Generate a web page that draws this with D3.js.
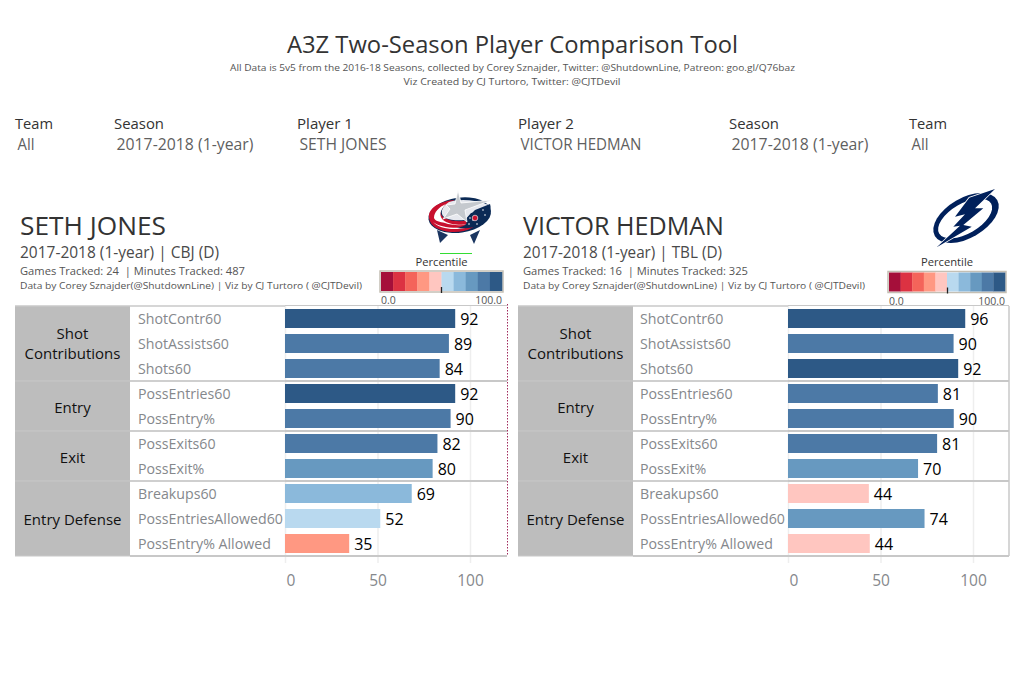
<!DOCTYPE html>
<html>
<head>
<meta charset="utf-8">
<script src="https://cdn.jsdelivr.net/npm/d3@7/dist/d3.min.js"></script>
<style>
html,body{margin:0;padding:0;background:#fff;overflow:hidden}
svg{display:block}
text{font-family:"Open Sans","Noto Sans",sans-serif}
</style>
</head>
<body>
<svg id="chart" width="1024" height="699"></svg>
<script>
const groups = ["Shot\nContributions", "Entry", "Exit", "Entry Defense"];
const groupSizes = [3, 2, 2, 3];
const metrics = ["ShotContr60","ShotAssists60","Shots60","PossEntries60","PossEntry%","PossExits60","PossExit%","Breakups60","PossEntriesAllowed60","PossEntry% Allowed"];
const player1Values = [92, 88.6, 83.6, 92, 89.5, 82.4, 79.8, 68.5, 51.5, 34.7];
const player2Values = [95.8, 89.5, 92, 81, 89.6, 80.6, 70.3, 43.7, 73.8, 44.2];
const palette = ["#A50F3A","#DC3242","#F4645A","#FF9882","#FFC6C0","#B9D9EF","#8BB9DB","#6799C0","#4C79A6","#2D5986"];
const axisTicks = [0, 50, 100];
const player1 = {name:"SETH JONES", sub:["2017-2018 (1-year) | CBJ (D)"], tracked:"Games Tracked: 24  | Minutes Tracked: 487"};
const player2 = {name:"VICTOR HEDMAN", sub:["2017-2018 (1-year) | TBL (D)"], tracked:"Games Tracked: 16  | Minutes Tracked: 325"};
const credit = "Data by Corey Sznajder(@ShutdownLine) | Viz by CJ Turtoro ( @CJTDevil)";
const filterLabels = ["Team","Season","Player 1","Player 2","Season","Team"];
const filterValues = ["All","2017-2018 (1-year)","SETH JONES","VICTOR HEDMAN","2017-2018 (1-year)","All"];
const filterX = [15,114,297,518,729,909];
const filterLabelW = [38,50,56,56,50,38];
const filterValueW = [17,137,87,121,137,17];

const svg = d3.select("#chart");
const ink = "#333333", mid = "#555555", grey = "#85888c", rule = "#c8c8c8";

function txt(parent,x,y,s,size,fill,anchor,len){
  const t = parent.append("text").attr("x",x).attr("y",y).attr("font-size",size).attr("fill",fill)
    .attr("text-anchor",anchor||"start").style("white-space","pre").text(s);
  if(len) t.attr("textLength",len).attr("lengthAdjust","spacingAndGlyphs");
  return t;
}

txt(svg,512.5,53,"A3Z Two-Season Player Comparison Tool",24,ink,"middle",451);
txt(svg,512.5,70.5,"All Data is 5v5 from the 2016-18 Seasons, collected by Corey Sznajder, Twitter: @ShutdownLine, Patreon: goo.gl/Q76baz",9,mid,"middle",565);
txt(svg,512,84.5,"Viz Created by CJ Turtoro, Twitter: @CJTDevil",9,mid,"middle",217);

filterLabels.forEach((l,i)=>{
  txt(svg,filterX[i],129,l,15,ink,"start",filterLabelW[i]);
  txt(svg,filterX[i]+2.5,150,filterValues[i],15.5,"#5f5f5f","start",filterValueW[i]);
});

const rowH = 25, tableTop = 306, yRows = d3.scaleBand().domain(metrics).range([tableTop, tableTop+rowH*metrics.length]).paddingInner(0.24).paddingOuter(0.12);
const color = d3.scaleQuantize().domain([0,100]).range(palette);

function panel(o){
  const g = svg.append("g");
  const x = d3.scaleLinear().domain([0,100]).range([o.x0, o.x0+185]);

  txt(g,o.tx,235,o.p.name,25,ink,"start",o.nameW);
  txt(g,o.tx,258,o.p.sub[0],15.5,"#4a4a4a","start",199);
  txt(g,o.tx,275,o.p.tracked,11,mid,"start",225);
  txt(g,o.tx,289,credit,9.5,mid,"start",342);

  // group cells
  let r = 0;
  groups.forEach((name,i)=>{
    const y0 = tableTop + r*rowH, h = groupSizes[i]*rowH;
    g.append("rect").attr("x",o.left).attr("y",y0).attr("width",115).attr("height",h).attr("fill","#bdbdbd");
    const lines = name.split("\n");
    lines.forEach((ln,j)=>{
      txt(g,o.left+57.5,y0+h/2+(lines.length>1?5.5:6.5)+(j-(lines.length-1)/2)*20,ln,15,"#111111","middle");
    });
    r += groupSizes[i];
  });

  // axis with gridlines
  const axis = d3.axisBottom(x).tickValues(axisTicks).tickSize(rowH*metrics.length+7).tickFormat(d3.format("d"));
  const ax = g.append("g").attr("transform",`translate(0,${tableTop})`).call(axis);
  ax.select(".domain").remove();
  ax.selectAll("line").attr("stroke","#eeeeee").attr("stroke-width",1.5);
  ax.selectAll("text").attr("y",rowH*metrics.length+19).attr("font-size",15.5).attr("fill",grey)
    .style("font-family",'"Open Sans","Noto Sans",sans-serif')
    .attr("dx",d=>d===0?5.5:0);

  metrics.forEach(m=>txt(g,o.metricX,yRows(m)+yRows.bandwidth()/2+5,m,14.2,grey));

  g.selectAll(".bar").data(o.values).enter().append("rect").attr("class","bar")
    .attr("x",x(0)).attr("y",(d,i)=>yRows(metrics[i])).attr("width",d=>x(d)-x(0)).attr("height",yRows.bandwidth())
    .attr("fill",d=>color(d));
  g.selectAll(".val").data(o.values).enter().append("text").attr("class","val")
    .attr("x",d=>x(d)+5).attr("y",(d,i)=>yRows(metrics[i])+yRows.bandwidth()/2+6.5)
    .attr("font-size",16).attr("fill","#000").text(d=>Math.round(d));

  // rules
  const ln=(x1,x2,y,w)=>g.append("line").attr("x1",x1).attr("x2",x2).attr("y1",y).attr("y2",y).attr("stroke",rule).attr("stroke-width",w);
  ln(o.left,o.x0,tableTop,1.5);
  ln(o.x0,o.right,tableTop-0.5,1);
  let c = 0;
  groupSizes.slice(0,-1).forEach(s=>{ c+=s; const y=tableTop+c*rowH; ln(o.left,o.x0,y,1); ln(o.x0,o.right,y,2); ln(o.left+115,o.x0,y,1.5); });
  ln(o.left,o.x0,tableTop+rowH*metrics.length,1);
  ln(o.left+115,o.right,tableTop+rowH*metrics.length,2);
  if(o.dotted) g.append("line").attr("x1",o.right+.5).attr("x2",o.right+.5).attr("y1",tableTop-2).attr("y2",tableTop+rowH*metrics.length).attr("stroke","#a02a5c").attr("stroke-width",1).attr("stroke-dasharray","1.5 1.5");
  else g.append("line").attr("x1",o.right).attr("x2",o.right).attr("y1",tableTop).attr("y2",tableTop+rowH*metrics.length).attr("stroke",rule).attr("stroke-width",1.5);

  // legend
  const lg = g.append("g");
  const lx = d3.scaleBand().domain(d3.range(palette.length)).range([o.lx0,o.lx1]);
  lg.append("rect").attr("x",o.lx0-1).attr("y",o.ly-1).attr("width",o.lx1-o.lx0+2).attr("height",21).attr("fill","none").attr("stroke","#c4bfb4").attr("stroke-width",1.5);
  lg.selectAll("rect.c").data(palette).enter().append("rect").attr("class","c")
    .attr("x",(d,i)=>lx(i)).attr("y",o.ly).attr("width",lx.bandwidth()+.3).attr("height",19).attr("fill",d=>d);
  txt(lg,(o.lx0+o.lx1)/2,o.ly-6.5,"Percentile",11.2,ink,"middle");
  txt(lg,o.lx0,o.ly+32,"0.0",10.5,mid);
  txt(lg,o.lx1,o.ly+32,"100.0",10.5,mid,"end");
  lg.append("line").attr("x1",o.mark).attr("x2",o.mark).attr("y1",o.ly+15).attr("y2",o.ly+21).attr("stroke","#222").attr("stroke-width",1.3);
  return g;
}

panel({p:player1,values:player1Values,x0:285,left:15,right:507,tx:20,metricX:138,nameW:146,lx0:381,lx1:502,ly:272,mark:441.5,dotted:true});
panel({p:player2,values:player2Values,x0:788,left:518,right:1009,tx:523,metricX:640,nameW:201,lx0:889,lx1:1005,ly:272.5,mark:947.5,dotted:false});

// CBJ logo
const cbj = svg.append("g").attr("transform","translate(461,217)");
cbj.append("path").attr("d","M-24 13 L-21 26 L-13 18 Z M9 18 L13 27 L19 13 Z").attr("fill","#1a3560");
cbj.append("ellipse").attr("rx",31.5).attr("ry",17.5).attr("cx",-1).attr("cy",-2).attr("transform","rotate(-8)").attr("fill","#0b2a55");
cbj.append("path").attr("d","M-32 1 C-33 -10 -20 -16 -6 -17 C-18 -12 -23 -6 -19 -1 C-12 6 8 6 24 -2 C18 10 4 16 -10 15 C-22 14 -31 9 -32 1 Z").attr("fill","#c8102e");
cbj.append("path").attr("d","M-27 1 C-27 -5 -22 -10 -15 -13 C-20 -8 -23 -2 -18 3 C-10 9 6 9 16 5 C6 9 -8 9 -16 6 C-21 5 -26 4 -27 1 Z M-28 5 C-22 10 -8 12 8 10 C-6 14 -22 12 -28 5 Z").attr("fill","#ffffff");
cbj.append("path").attr("d","M-12 -15 C-4 -18 14 -18 28 -12 L25 -6 L10 -4 L4 3 C-6 4 -14 3 -18 -1 C-21 -6 -18 -11 -12 -15 Z").attr("fill","#e6e8ee");
cbj.append("path").attr("d","M4 3 L14 -7 L29 -13 C31 -7 28 1 22 6 C14 11 6 12 -4 11 C4 9 8 7 4 3 Z").attr("fill","#0b2a55");
[[8,7],[12,3],[16,7],[9,1],[22,-7],[24,-2]].forEach(p=>cbj.append("circle").attr("cx",p[0]).attr("cy",p[1]).attr("r",.8).attr("fill","#fff"));
cbj.append("circle").attr("cx",14).attr("cy",1).attr("r",2.8).attr("fill","#c8102e").attr("stroke","#fff").attr("stroke-width",.6);
cbj.append("path").attr("d","M-3 -27 L0 -14 L31 -17 L4 -7 L6 5 L-4 -3 L-18 2 L-11 -8 L-15 -12 L-6 -13 Z").attr("fill","#c5c9ce").attr("stroke","#ffffff").attr("stroke-width",.8);
svg.append("line").attr("x1",440).attr("x2",472).attr("y1",253.5).attr("y2",253.5).attr("stroke","#33dd33").attr("stroke-width",1);

// TBL logo
const tbl = svg.append("g").attr("transform","translate(966,218)");
tbl.append("ellipse").attr("rx",36).attr("ry",20).attr("transform","rotate(-30)").attr("fill","#00205b");
tbl.append("ellipse").attr("rx",30).attr("ry",15).attr("cx",-1).attr("cy",0).attr("transform","rotate(-30)").attr("fill","#fff");
tbl.append("path").attr("d","M29 -29 L3.3 -20.3 L-11 -1.3 L-1 -3.7 L-12.7 8.7 L-6 7.7 L-29.3 29.3 L5.7 8.7 L-2.7 7 L17.3 -9.7 L9 -9.7 Z").attr("fill","#00205b").attr("stroke","#fff").attr("stroke-width",1.5).attr("paint-order","stroke");
</script>
</body>
</html>
